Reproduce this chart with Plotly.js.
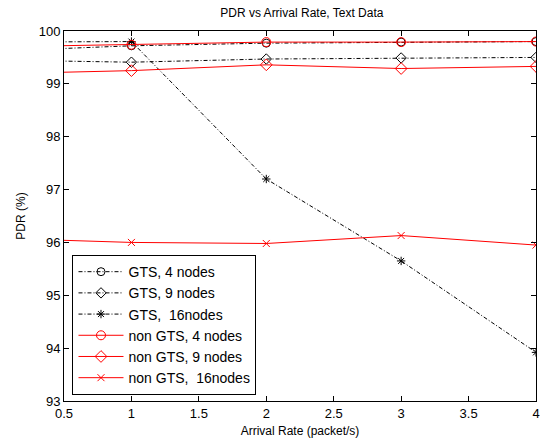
<!DOCTYPE html>
<html><head><meta charset="utf-8">
<script src="https://cdn.plot.ly/plotly-3.0.1.min.js"></script>
<style>html,body{margin:0;padding:0;background:#fff}</style>
</head><body>
<div id="chart" style="width:541px;height:441px"></div>
<script>
// x=0 point lies outside the visible range (0.5..4); only its line segment shows
const arrivalRate = [0, 1, 2, 3, 4];
const gts4 = [99.62, 99.72, 99.77, 99.79, 99.80];
const gts9 = [99.45, 99.41, 99.47, 99.49, 99.50];
const gts16 = [99.79, 99.80, 97.20, 95.65, 93.92];
const nonGts4 = [99.70, 99.74, 99.79, 99.79, 99.80];
const nonGts9 = [99.19, 99.25, 99.36, 99.29, 99.33];
const nonGts16 = [96.08, 96.00, 95.98, 96.13, 95.95];
const names = ['GTS, 4 nodes', 'GTS, 9 nodes', 'GTS,  16nodes', 'non GTS, 4 nodes', 'non GTS, 9 nodes', 'non GTS,  16nodes'];

function tr(y, name, color, dash, symbol, size) {
  return {x: arrivalRate, y: y, name: name, type: 'scatter', mode: 'lines+markers',
    line: {color: color, width: 1, dash: dash},
    marker: {symbol: symbol, size: size, color: color, line: {color: color, width: 1}}};
}
const data = [
  tr(gts4, names[0], '#000', '4px,2px,1px,2px', 'circle-open', 8),
  tr(gts9, names[1], '#000', '4px,2px,1px,2px', 'diamond-open', 8),
  tr(gts16, names[2], '#000', '4px,2px,1px,2px', 'asterisk-open', 7),
  tr(nonGts4, names[3], '#ff0000', 'solid', 'circle-open', 9),
  tr(nonGts9, names[4], '#ff0000', 'solid', 'diamond-open', 9),
  tr(nonGts16, names[5], '#ff0000', 'solid', 'x-thin-open', 7)
];
const axisCommon = {showgrid: false, zeroline: false, showline: true, linecolor: '#000', linewidth: 1,
  mirror: 'ticks', ticks: 'inside', ticklen: 5, tickcolor: '#000',
  tickfont: {family: 'Liberation Sans, Arial', size: 13, color: '#000'}};
const layout = {
  width: 541, height: 441,
  margin: {l: 64, r: 5, t: 31, b: 40},
  paper_bgcolor: '#fff', plot_bgcolor: '#fff',
  font: {family: 'Liberation Sans, Arial', color: '#000'},
  title: {text: 'PDR vs Arrival Rate, Text Data', font: {size: 12, color: '#000'}, x: 0.558, xanchor: 'center', y: 0.972, yanchor: 'middle'},
  xaxis: Object.assign({}, axisCommon, {range: [0.5, 4], tickvals: [0.5,1,1.5,2,2.5,3,3.5,4], ticktext: ['0.5','1','1.5','2','2.5','3','3.5','4'],
    title: {text: 'Arrival Rate (packet/s)', font: {size: 12}, standoff: 7}}),
  yaxis: Object.assign({}, axisCommon, {range: [93, 100], dtick: 1,
    title: {text: 'PDR (%)', font: {size: 12}, standoff: 10}}),
  legend: {x: 0.018, y: 0.016, xanchor: 'left', yanchor: 'bottom', bgcolor: '#fff', bordercolor: '#000', borderwidth: 1,
    font: {size: 14, color: '#000'}, tracegroupgap: 0, itemwidth: 45},
  showlegend: true
};
Plotly.newPlot('chart', data, layout, {staticPlot: true, displayModeBar: false});
</script>
</body></html>
